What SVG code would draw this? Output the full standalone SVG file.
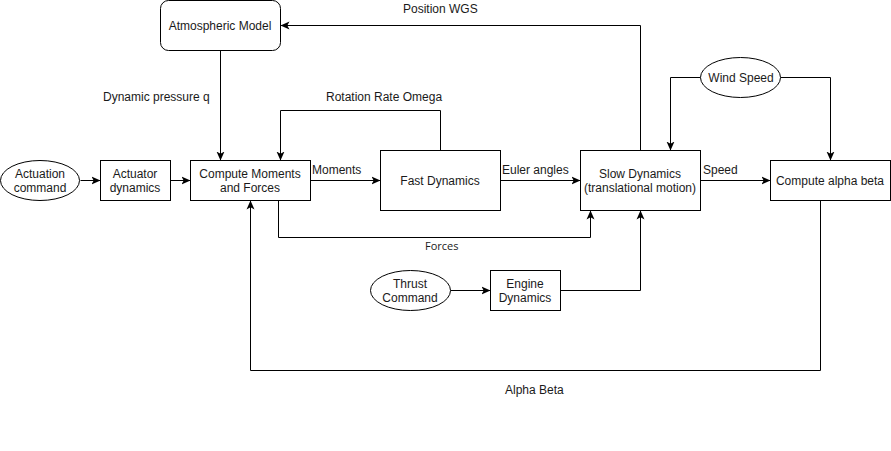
<svg xmlns="http://www.w3.org/2000/svg" width="891" height="451" viewBox="0 0 891 451">
<style>
.box{fill:#fff;stroke:#000;stroke-width:1}
.ell{fill:#fff;stroke:#000;stroke-width:1}
.t{font-family:"Liberation Sans",Arial,Helvetica,sans-serif;font-size:12px;fill:#1a1a1a;text-anchor:middle}
.l{font-family:"Liberation Sans",Arial,Helvetica,sans-serif;font-size:12px;fill:#1a1a1a}
.f{font-family:"Open Sans","DejaVu Sans",sans-serif;font-size:11px;fill:#1a1a1a}
.c{fill:none;stroke:#000;stroke-width:1}
</style>
<defs>
<marker id="a" markerUnits="userSpaceOnUse" markerWidth="10" markerHeight="10" viewBox="0 0 10 8" refX="9" refY="4" orient="auto">
<path d="M0,0 L9,4 L0,8 L2.2,4 Z" fill="#000"/>
</marker>
</defs>
<rect width="891" height="451" fill="#fff"/>
<g id="connectors">
<g transform="translate(0.5,0.5)">
<path class="c" d="M80,180 L100,180" marker-end="url(#a)"/>
<path class="c" d="M170,180 L190,180" marker-end="url(#a)"/>
<path class="c" d="M220,50 L220,160" marker-end="url(#a)"/>
<path class="c" d="M440,150 L440,110 L280,110 L280,160" marker-end="url(#a)"/>
<path class="c" d="M310,180 L380,180" marker-end="url(#a)"/>
<path class="c" d="M500,180 L580,180" marker-end="url(#a)"/>
<path class="c" d="M278,200 L278,237 L590,237 L590,210" marker-end="url(#a)"/>
<path class="c" d="M450,290 L490,290" marker-end="url(#a)"/>
<path class="c" d="M560,290 L640,290 L640,210" marker-end="url(#a)"/>
<path class="c" d="M640,150 L640,25 L280,25" marker-end="url(#a)"/>
<path class="c" d="M700,180 L770,180" marker-end="url(#a)"/>
<path class="c" d="M700,77 L670,77 L670,150" marker-end="url(#a)"/>
<path class="c" d="M780,77 L830,77 L830,160" marker-end="url(#a)"/>
<path class="c" d="M820,200 L820,370 L250,370 L250,200" marker-end="url(#a)"/>
</g>
<text class="l" x="403" y="13">Position WGS</text>
<text class="l" x="103" y="101">Dynamic pressure q</text>
<text class="l" x="326" y="101">Rotation Rate Omega</text>
<text class="l" x="312" y="174">Moments</text>
<text class="l" x="502" y="174">Euler angles</text>
<text class="l" x="703" y="174">Speed</text>
<text class="f" x="425" y="250">Forces</text>
<text class="l" x="505" y="394">Alpha Beta</text>
</g>
<g id="actuation-command">
<ellipse class="ell" cx="40" cy="180.5" rx="39.5" ry="20"/>
<text class="t" x="40" y="177.5">Actuation</text>
<text class="t" x="40" y="191.5">command</text>
</g>
<g id="actuator-dynamics">
<rect class="box" x="100.5" y="160.5" width="70" height="40"/>
<text class="t" x="135" y="177.5">Actuator</text>
<text class="t" x="135" y="191.5">dynamics</text>
</g>
<g id="compute-moments">
<rect class="box" x="190.5" y="160.5" width="120" height="40"/>
<text class="t" x="250" y="177.5">Compute Moments</text>
<text class="t" x="250" y="191.5">and Forces</text>
</g>
<g id="atmospheric-model">
<rect class="box" x="160.5" y="0.5" width="120" height="50" rx="8" ry="8"/>
<text class="t" x="220" y="29.5">Atmospheric Model</text>
</g>
<g id="fast-dynamics">
<rect class="box" x="380.5" y="150.5" width="120" height="60"/>
<text class="t" x="440" y="184.5">Fast Dynamics</text>
</g>
<g id="slow-dynamics">
<rect class="box" x="580.5" y="150.5" width="120" height="60"/>
<text class="t" x="640" y="177.5">Slow Dynamics</text>
<text class="t" x="640" y="191.5">(translational motion)</text>
</g>
<g id="thrust-command">
<ellipse class="ell" cx="410.5" cy="290.5" rx="40" ry="20"/>
<text class="t" x="410" y="287.5">Thrust</text>
<text class="t" x="410" y="301.5">Command</text>
</g>
<g id="engine-dynamics">
<rect class="box" x="490.5" y="270.5" width="70" height="40"/>
<text class="t" x="525" y="287.5">Engine</text>
<text class="t" x="525" y="301.5">Dynamics</text>
</g>
<g id="wind-speed">
<ellipse class="ell" cx="740.5" cy="77.5" rx="40" ry="20"/>
<text class="t" x="741" y="82">Wind Speed</text>
</g>
<g id="compute-alpha-beta">
<rect class="box" x="770.5" y="160.5" width="120" height="40"/>
<text class="t" x="830" y="184.5">Compute alpha beta</text>
</g>
</svg>
